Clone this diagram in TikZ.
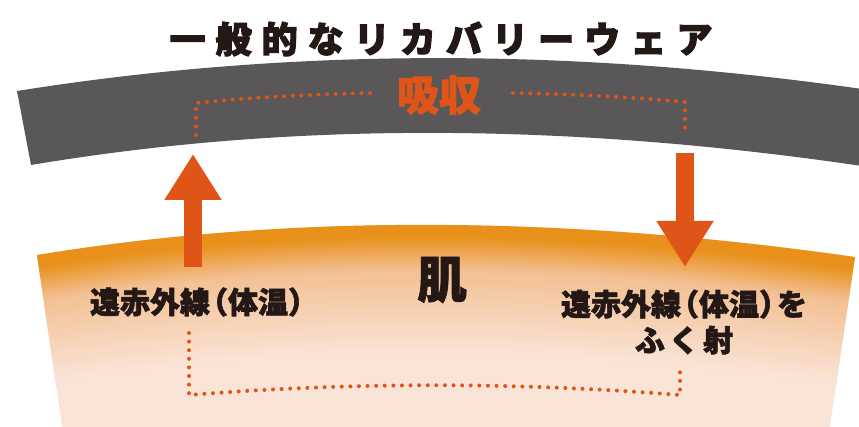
\documentclass[tikz,border=0pt]{standalone}
\usepackage{fontspec}
\newfontfamily\jp{Noto Sans CJK JP}
\usetikzlibrary{arrows.meta}
\definecolor{bandgray}{HTML}{595757}
\definecolor{accent}{HTML}{DF5518}
\definecolor{inkblack}{HTML}{231815}
\definecolor{skinO}{HTML}{E8901A}
\definecolor{skinM}{HTML}{F3C093}
\definecolor{skinP}{HTML}{FAE4D7}
\newcommand{\lp}{\kern-0.4em（}
\newcommand{\rp}{）\kern-0.4em}
\tikzset{
  dots/.style={draw=accent, line width=4pt, line cap=round, dash pattern=on 0pt off 8.6pt},
  bigarrow/.style={draw=accent, fill=accent, line width=18pt, -{Triangle[width=54pt,length=46pt]}},
  lbl/.style={inner sep=0pt, text=inkblack, font={\jp\bfseries\fontsize{30}{36}\selectfont\addfontfeature{FakeBold=2}}},
}
\begin{document}
\begin{tikzpicture}[x=1pt,y=-1pt]
\useasboundingbox (0,0) rectangle (859,427);
\begin{scope}
\clip (0,0) rectangle (859,427);
% gray band
\fill[bandgray] (17,91) .. controls (287,48) and (568,47) .. (862,89) -- (862,166) .. controls (563,122) and (287,122) .. (31,165) -- cycle;
% skin band
\begin{scope}
\clip (37,255) .. controls (288,214) and (561,215) .. (855,257) -- (828,440) -- (64,440) -- cycle;
\fill[skinP] (0,150) rectangle (859,440);
\foreach \d in {0,2,...,46}{
  \pgfmathsetmacro\p{\d<12?100:100-(\d-12)*100/34}
  \draw[line width=2.6pt, draw=skinO!\p!skinM, shift={(0,\d)}] (20,258) -- (37,255) .. controls (288,214) and (561,215) .. (855,257) -- (870,259);
}
\foreach \d in {48,50,...,130}{
  \pgfmathsetmacro\p{100-(\d-46)*100/84}
  \draw[line width=2.6pt, draw=skinM!\p!skinP, shift={(0,\d)}] (20,258) -- (37,255) .. controls (288,214) and (561,215) .. (855,257) -- (870,259);
}
\end{scope}
\end{scope}
% arrows
\coordinate (upS) at (193,267);
\coordinate (upE) at (193,154);
\coordinate (dnS) at (685,153);
\coordinate (dnE) at (685,267);
\draw[bigarrow] (upS) -- (upE);
\draw[bigarrow] (dnS) -- (dnE);
% texts
\node[inner sep=0pt, text=inkblack, font={\jp\bfseries\fontsize{36}{40}\selectfont\addfontfeature{LetterSpace=28,FakeBold=3.2}}] (title) at (441,39) {一般的なリカバリーウェア};
\node[inner sep=0pt, text=accent, font={\jp\bfseries\fontsize{42}{46}\selectfont\addfontfeature{FakeBold=1.8}}] (absorb) at (439,95) {吸収};
\node[inner sep=0pt, text=inkblack, font={\jp\bfseries\fontsize{50}{54}\selectfont\addfontfeature{FakeBold=1.2}}] (skin) at (442,280) {肌};
\node[lbl] (left) at (198,302) {遠赤外線\lp 体温\rp};
\node[lbl, align=center] (right) at (684,322) {遠赤外線\lp 体温\rp を\\ふ\kern4pt く\kern4pt 射};
% dotted brackets
\coordinate (a1) at (196,135);
\coordinate (a2) at (196,103);
\coordinate (a3) at (377,93);
\coordinate (b1) at (513,93);
\coordinate (b2) at (685,102);
\coordinate (b3) at (685,130);
\draw[dots] (a1) -- (a2) .. controls (255,97) and (315,94) .. (a3);
\draw[dots] (b1) .. controls (570,94) and (630,97) .. (b2) -- (b3);
\coordinate (c1) at (189,333);
\coordinate (c2) at (189,395);
\coordinate (c3) at (680,395);
\coordinate (c4) at (680,372);
\draw[dots] (c1) -- (c2) .. controls (353,382) and (516,382) .. (c3) -- (c4);
\end{tikzpicture}
\end{document}
